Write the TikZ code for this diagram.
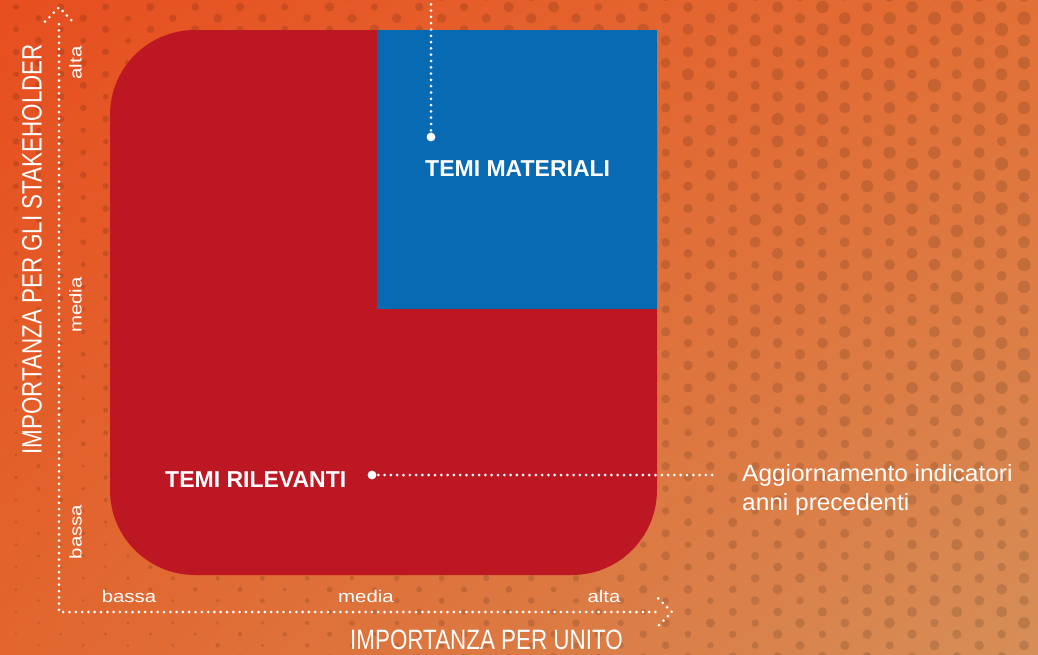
\documentclass[tikz,border=0pt]{standalone}
\usepackage{fontspec}
\usetikzlibrary{shadings}
\setmainfont{Liberation Sans}
\newfontfamily\condf[FakeStretch=0.8]{Liberation Sans}
\newfontfamily\widef[FakeStretch=1.2]{Liberation Sans}
\newfontfamily\notef[FakeStretch=1.04]{Liberation Sans}
\definecolor{bgTL}{RGB}{231,78,32}
\definecolor{bgTR}{RGB}{226,112,54}
\definecolor{bgBL}{RGB}{226,102,46}
\definecolor{bgBR}{RGB}{214,142,88}
\definecolor{redc}{RGB}{190,23,36}
\definecolor{bluec}{RGB}{7,106,179}
\tikzset{
  dotline/.style={white, line width=3pt, line cap=round, dash pattern=on 0pt off 6.3pt},
  axlabel/.style={text=white, inner sep=0pt, font=\widef\fontsize{17}{17}\selectfont},
  titletext/.style={text=white, inner sep=0pt, font=\condf\fontsize{28}{28}\selectfont},
  themetext/.style={text=white, inner sep=0pt, font=\bfseries\fontsize{23}{23}\selectfont},
  notetext/.style={text=white, inner sep=0pt, font=\notef\fontsize{23.5}{23.5}\selectfont},
  enddot/.style={circle, fill=white, inner sep=0pt, minimum size=8.8pt},
  bgdot/.style={fill=black, fill opacity=0.12},
}
\begin{document}
\begin{tikzpicture}[x=1pt, y=-1pt]
\useasboundingbox (0,0) rectangle (1038,654);
% background
\shade[upper left=bgTL, upper right=bgTR, lower left=bgBL, lower right=bgBR] (0,0) rectangle (1038,654);
\pgfmathsetseed{7}
\begin{scope}
\clip (0,0) rectangle (1038,654);
\foreach \i in {0,...,46}{
  \foreach \j in {-1,...,29}{
    \pgfmathsetmacro\px{16+22.4*\i}
    \pgfmathsetmacro\py{7+22.4*\j+11.2*mod(\i,2)}
    \pgfmathsetmacro\uu{\px/1038}
    \pgfmathsetmacro\vv{max(0,min(1,\py/654))}
    \pgfmathsetmacro\rr{max(0.8,(3.4-2.4*\vv+\uu*(2.6+1.6*\vv))*(0.82+0.36*rnd))}
    \fill[bgdot] (\px,\py) circle[radius=\rr];
  }
}
\end{scope}
% shapes
\node[fill=redc, rounded corners=85pt, inner sep=0pt, outer sep=0pt, minimum width=547pt, minimum height=545pt] (rel) at (383.5,302.5) {};
\node[fill=bluec, inner sep=0pt, outer sep=0pt, minimum width=280pt, minimum height=279pt] (mat) at (517,169.5) {};
% theme labels
\node[themetext, anchor=base west] (tm) at (425,176) {TEMI MATERIALI};
\node[themetext, anchor=base west] (tr) at (165,487) {TEMI RILEVANTI};
% connectors
\node[enddot] (dm) at (431,137) {};
\node[enddot] (dr) at (372,475) {};
\coordinate (dmtop) at (431,-2);
\coordinate (drend) at (715,475);
\draw[dotline] (dmtop) -- (dm.center);
\draw[dotline] (dr.center) -- (drend);
\node[notetext, anchor=base west] (note1) at (742,481.7) {Aggiornamento indicatori};
\node[notetext, anchor=base west] (note2) at (742,510) {anni precedenti};
% axes
\coordinate (origin) at (59,612);
\coordinate (ytop) at (59,24);
\coordinate (xend) at (657,612);
\coordinate (ytip) at (59,7.3);
\coordinate (yl) at (45,21.7);
\coordinate (yr) at (72.7,21.7);
\coordinate (xtip) at (672,612);
\coordinate (xu) at (658.3,598.3);
\coordinate (xd) at (658.3,625.7);
\draw[dotline] (ytop) -- (origin) -- (xend);
\draw[dotline] (yl) -- (ytip) -- (yr);
\draw[dotline] (xu) -- (xtip) -- (xd);
% axis labels
\node[axlabel, anchor=base] (xb) at (129,602) {bassa};
\node[axlabel, anchor=base] (xm) at (366,602) {media};
\node[axlabel, anchor=base] (xa) at (604,602) {alta};
\node[axlabel, anchor=base, rotate=90] (ya) at (81.7,63) {alta};
\node[axlabel, anchor=base, rotate=90] (ym) at (81.7,305) {media};
\node[axlabel, anchor=base, rotate=90] (yb) at (81.7,532) {bassa};
\node[titletext, anchor=base west] (xt) at (350,649) {IMPORTANZA PER UNITO};
\node[titletext, anchor=base west, rotate=90] (yt) at (41.7,455) {IMPORTANZA PER GLI STAKEHOLDER};
\end{tikzpicture}
\end{document}
